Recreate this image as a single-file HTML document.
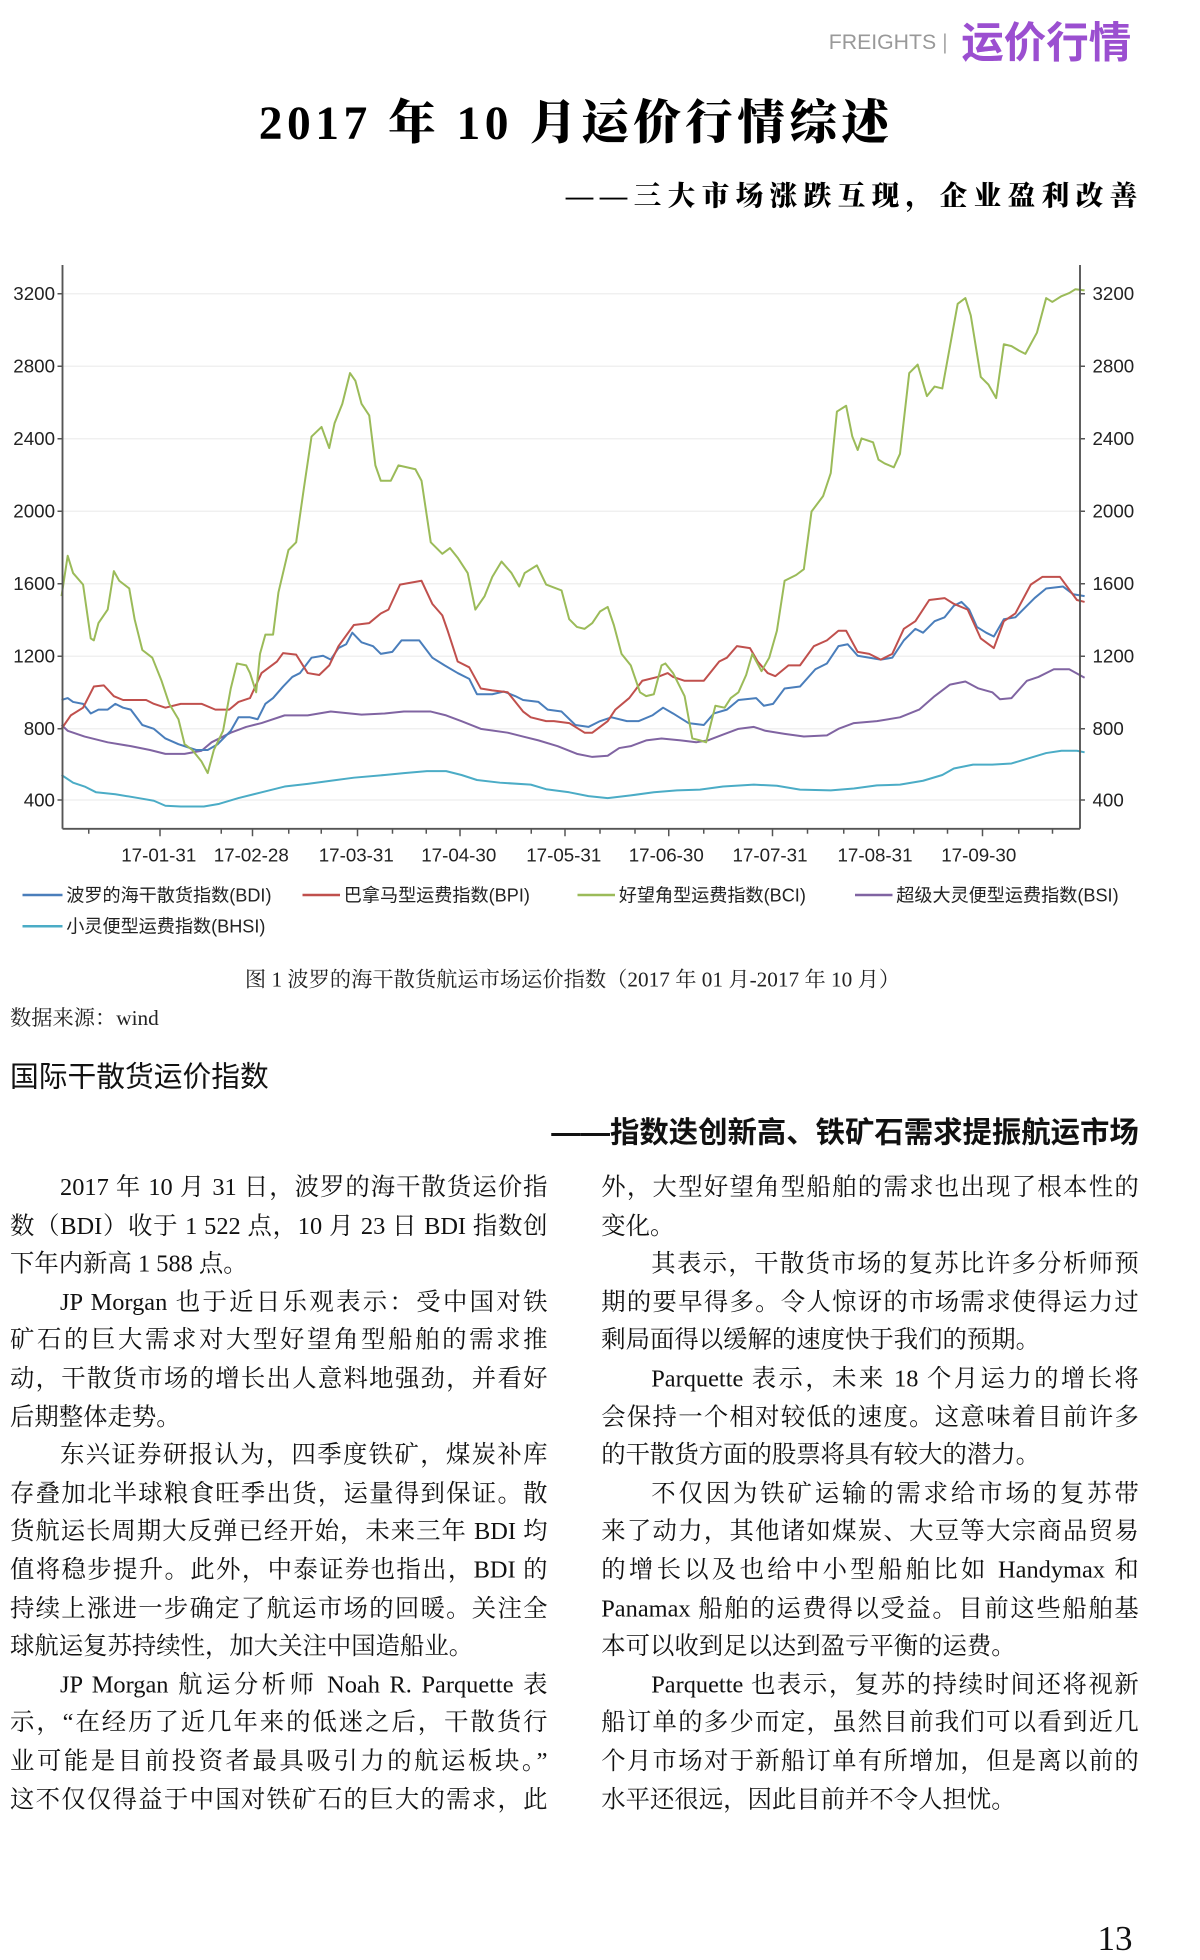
<!DOCTYPE html>
<html><head><meta charset="utf-8">
<style>
html,body{margin:0;padding:0;background:#fff;width:1200px;height:1959px;overflow:hidden;}
#p{position:absolute;left:0;top:0;width:960px;height:1568px;transform:scale(1.25);transform-origin:0 0;}
.a{position:absolute;white-space:nowrap;}
.serif{font-family:"Liberation Serif","Noto Serif CJK SC",serif;}
.sans{font-family:"Liberation Sans","Noto Sans CJK SC",sans-serif;}
.col{position:absolute;top:936px;width:430px;font-family:"Liberation Serif","Noto Serif CJK SC",serif;font-size:19.5px;line-height:30.6px;color:#111;}
.col div{text-align:justify;text-align-last:justify;white-space:nowrap;height:30.6px;}
.col div.l{text-align-last:left;}
.col div.i{padding-left:40px;}
</style></head><body><div id="p">
<div class="a sans" style="left:663px;top:24px;font-size:17px;color:#999;">FREIGHTS <span style="color:#aaa">|</span></div>
<div class="a sans" style="left:769px;top:7px;font-size:34px;color:#9b4fd0;font-weight:bold;">运价行情</div>
<div class="a serif" style="left:207px;top:67px;font-size:38px;font-weight:900;color:#000;letter-spacing:3.6px;">2017 年 10 月运价行情综述</div>
<div class="a serif" style="right:45px;top:140px;font-size:22px;font-weight:900;color:#000;letter-spacing:5.2px;">——三大市场涨跌互现，企业盈利改善</div>

<svg class="a" style="left:0;top:0" width="960" height="760" viewBox="0 0 960 760">
<g stroke="#eee" stroke-width="1">
<line x1="50" x2="864" y1="235" y2="235"/><line x1="50" x2="864" y1="293" y2="293"/><line x1="50" x2="864" y1="351" y2="351"/><line x1="50" x2="864" y1="409" y2="409"/><line x1="50" x2="864" y1="467" y2="467"/><line x1="50" x2="864" y1="525" y2="525"/><line x1="50" x2="864" y1="583" y2="583"/><line x1="50" x2="864" y1="640" y2="640"/>
</g>
<g transform="translate(0,200) scale(0.61538,0.30769)" fill="none" stroke-width="1.6" stroke-linejoin="round">
<polyline vector-effect="non-scaling-stroke" stroke="#4bacc6" points="80,1365 95,1385 110,1395 125,1410 150,1415 180,1425 200,1432 215,1445 235,1447 265,1447 285,1440 310,1425 340,1410 370,1395 400,1388 430,1380 460,1372 500,1365 525,1360 555,1355 580,1355 600,1365 620,1378 650,1385 690,1390 710,1402 740,1410 765,1420 790,1425 820,1418 850,1410 880,1405 910,1403 940,1395 980,1390 1010,1393 1040,1403 1080,1405 1110,1400 1140,1392 1170,1390 1200,1380 1225,1365 1240,1348 1265,1338 1290,1338 1315,1335 1340,1320 1360,1308 1380,1302 1400,1302 1410,1306"/>
<polyline vector-effect="non-scaling-stroke" stroke="#8064a2" points="80,1235 88,1250 110,1265 140,1280 170,1290 195,1300 215,1310 240,1310 262,1302 275,1280 300,1255 320,1240 340,1230 370,1210 400,1210 430,1200 470,1208 500,1205 525,1200 560,1200 580,1210 600,1225 625,1245 660,1255 680,1265 700,1275 725,1290 750,1310 770,1318 790,1315 805,1295 820,1290 840,1275 860,1270 885,1275 905,1280 920,1275 940,1260 960,1245 980,1240 995,1250 1020,1258 1045,1265 1075,1262 1090,1245 1110,1230 1140,1225 1170,1215 1195,1195 1215,1160 1235,1130 1255,1122 1272,1140 1290,1150 1300,1168 1315,1165 1335,1120 1350,1110 1370,1090 1390,1090 1410,1112"/>
<polyline vector-effect="non-scaling-stroke" stroke="#4a7ebb" points="80,1170 88,1165 95,1175 108,1180 118,1205 128,1195 140,1195 150,1180 160,1190 170,1195 185,1235 200,1245 215,1270 232,1285 255,1300 270,1300 283,1285 300,1250 310,1215 325,1215 335,1220 345,1180 355,1165 368,1135 380,1110 390,1100 405,1060 420,1055 430,1065 440,1035 450,1025 458,995 470,1020 485,1030 495,1050 510,1045 522,1015 545,1015 562,1060 578,1080 595,1100 610,1115 620,1155 640,1155 655,1148 670,1160 680,1170 700,1175 712,1195 730,1200 748,1235 765,1240 780,1225 795,1215 815,1225 830,1225 848,1210 862,1190 875,1205 895,1230 915,1235 928,1205 945,1195 960,1170 983,1165 993,1185 1005,1180 1020,1140 1040,1135 1060,1090 1075,1075 1090,1030 1102,1025 1115,1055 1145,1065 1160,1060 1175,1015 1190,985 1200,995 1215,965 1228,955 1240,925 1250,915 1260,935 1270,980 1282,995 1292,1005 1305,960 1320,955 1345,905 1360,880 1382,875 1395,895 1410,900"/>
<polyline vector-effect="non-scaling-stroke" stroke="#c0504d" points="80,1245 92,1210 108,1190 122,1135 135,1132 148,1160 160,1170 175,1170 190,1170 200,1180 215,1190 235,1180 262,1180 280,1195 298,1195 310,1175 325,1165 340,1100 360,1070 368,1048 385,1052 400,1100 415,1105 428,1080 440,1030 460,975 480,970 495,945 505,935 520,870 548,860 562,920 575,950 582,990 595,1070 610,1085 625,1140 640,1145 660,1150 680,1200 690,1215 710,1225 720,1225 740,1230 760,1255 770,1255 790,1225 800,1195 818,1165 835,1120 855,1110 868,1100 875,1110 890,1120 915,1120 935,1070 945,1060 958,1030 975,1035 985,1070 998,1100 1008,1108 1025,1080 1040,1080 1058,1030 1075,1015 1090,990 1100,990 1115,1045 1130,1050 1145,1065 1160,1050 1175,985 1190,965 1208,910 1228,905 1240,920 1258,935 1275,1010 1292,1035 1305,965 1320,945 1340,870 1355,850 1378,850 1400,910 1410,915"/>
<polyline vector-effect="non-scaling-stroke" stroke="#9bbb59" points="80,900 88,795 95,840 108,870 118,1010 122,1015 128,970 140,935 148,835 155,860 168,880 175,960 185,1040 198,1060 210,1120 220,1180 232,1220 240,1285 250,1300 262,1330 270,1360 278,1300 290,1250 300,1140 308,1075 320,1080 325,1100 333,1150 338,1050 345,1000 355,1000 362,890 375,780 385,760 395,620 405,485 418,460 428,515 435,450 445,400 455,320 462,340 470,400 480,430 488,560 495,600 508,600 518,560 540,570 548,600 560,760 575,790 585,775 595,800 608,840 618,935 630,900 640,850 652,810 665,840 675,875 682,840 698,820 710,870 730,885 740,960 750,980 760,985 770,970 780,940 790,928 798,975 808,1050 820,1080 832,1150 840,1160 850,1155 860,1080 865,1075 875,1100 890,1160 900,1270 910,1275 918,1280 930,1185 942,1190 950,1165 960,1150 970,1105 978,1050 990,1095 1000,1060 1010,990 1020,860 1035,845 1045,830 1055,680 1070,640 1080,580 1088,420 1100,405 1108,485 1115,520 1120,490 1135,500 1142,545 1150,555 1162,565 1170,530 1182,320 1193,298 1205,380 1215,355 1225,360 1235,250 1245,140 1255,125 1262,170 1275,330 1285,350 1295,385 1305,245 1315,250 1325,262 1333,270 1348,215 1360,125 1368,135 1380,120 1390,112 1398,102 1410,105"/>
</g>
<g stroke="#555" stroke-width="1.5" fill="none">
<line x1="50" y1="212" x2="50" y2="663"/><line x1="864" y1="212" x2="864" y2="663"/><line x1="50" y1="663" x2="864" y2="663"/>
</g>
<g stroke="#555" stroke-width="1.2">
<line x1="46" x2="50" y1="235" y2="235"/><line x1="46" x2="50" y1="293" y2="293"/><line x1="46" x2="50" y1="351" y2="351"/><line x1="46" x2="50" y1="409" y2="409"/><line x1="46" x2="50" y1="467" y2="467"/><line x1="46" x2="50" y1="525" y2="525"/><line x1="46" x2="50" y1="583" y2="583"/><line x1="46" x2="50" y1="640" y2="640"/>
<line x1="864" x2="868" y1="235" y2="235"/><line x1="864" x2="868" y1="293" y2="293"/><line x1="864" x2="868" y1="351" y2="351"/><line x1="864" x2="868" y1="409" y2="409"/><line x1="864" x2="868" y1="467" y2="467"/><line x1="864" x2="868" y1="525" y2="525"/><line x1="864" x2="868" y1="583" y2="583"/><line x1="864" x2="868" y1="640" y2="640"/>
<line x1="71" x2="71" y1="663" y2="667"/><line x1="128" x2="128" y1="663" y2="669"/><line x1="177" x2="177" y1="663" y2="667"/><line x1="202" x2="202" y1="663" y2="669"/><line x1="231" x2="231" y1="663" y2="667"/><line x1="257" x2="257" y1="663" y2="667"/><line x1="286" x2="286" y1="663" y2="669"/><line x1="314" x2="314" y1="663" y2="667"/><line x1="341" x2="341" y1="663" y2="667"/><line x1="368" x2="368" y1="663" y2="669"/><line x1="397" x2="397" y1="663" y2="667"/><line x1="425" x2="425" y1="663" y2="667"/><line x1="452" x2="452" y1="663" y2="669"/><line x1="480" x2="480" y1="663" y2="667"/><line x1="508" x2="508" y1="663" y2="667"/><line x1="535" x2="535" y1="663" y2="669"/><line x1="563" x2="563" y1="663" y2="667"/><line x1="591" x2="591" y1="663" y2="667"/><line x1="618" x2="618" y1="663" y2="669"/><line x1="646" x2="646" y1="663" y2="667"/><line x1="675" x2="675" y1="663" y2="667"/><line x1="703" x2="703" y1="663" y2="669"/><line x1="731" x2="731" y1="663" y2="667"/><line x1="758" x2="758" y1="663" y2="667"/><line x1="786" x2="786" y1="663" y2="669"/><line x1="815" x2="815" y1="663" y2="667"/><line x1="842" x2="842" y1="663" y2="667"/>
</g>
<g font-family="Liberation Sans Narrow, Liberation Sans, sans-serif" font-size="15" fill="#222">
<g text-anchor="end"><text x="44" y="240">3200</text><text x="44" y="298">2800</text><text x="44" y="356">2400</text><text x="44" y="414">2000</text><text x="44" y="472">1600</text><text x="44" y="530">1200</text><text x="44" y="588">800</text><text x="44" y="645">400</text></g>
<g><text x="874" y="240">3200</text><text x="874" y="298">2800</text><text x="874" y="356">2400</text><text x="874" y="414">2000</text><text x="874" y="472">1600</text><text x="874" y="530">1200</text><text x="874" y="588">800</text><text x="874" y="645">400</text></g>
<g text-anchor="middle"><text x="127" y="689">17-01-31</text><text x="201" y="689">17-02-28</text><text x="285" y="689">17-03-31</text><text x="367" y="689">17-04-30</text><text x="451" y="689">17-05-31</text><text x="533" y="689">17-06-30</text><text x="616" y="689">17-07-31</text><text x="700" y="689">17-08-31</text><text x="783" y="689">17-09-30</text></g>
</g>
<g stroke-width="2">
<line x1="18" x2="50" y1="716" y2="716" stroke="#4a7ebb"/><line x1="242" x2="272" y1="716" y2="716" stroke="#c0504d"/><line x1="462" x2="492" y1="716" y2="716" stroke="#9bbb59"/><line x1="684" x2="714" y1="716" y2="716" stroke="#8064a2"/><line x1="18" x2="50" y1="741" y2="741" stroke="#4bacc6"/>
</g>
<g font-family="Liberation Sans, Noto Sans CJK SC, sans-serif" font-size="14.5" fill="#222">
<text x="53" y="721">波罗的海干散货指数(BDI)</text><text x="275" y="721">巴拿马型运费指数(BPI)</text><text x="495" y="721">好望角型运费指数(BCI)</text><text x="717" y="721">超级大灵便型运费指数(BSI)</text><text x="53" y="746">小灵便型运费指数(BHSI)</text>
</g>
</svg>

<div class="a serif" style="left:0;width:916px;text-align:center;top:769px;font-size:17px;color:#222;">图 1 波罗的海干散货航运市场运价指数（2017 年 01 月-2017 年 10 月）</div>
<div class="a serif" style="left:8px;top:800px;font-size:17px;color:#222;">数据来源：wind</div>
<div class="a sans" style="left:8px;top:842px;font-size:23px;color:#111;">国际干散货运价指数</div>
<div class="a sans" style="right:49px;top:887px;font-size:23.5px;color:#111;font-weight:bold;">——指数迭创新高、铁矿石需求提振航运市场</div>

<div class="col" style="left:8px;">
<div class="i">2017 年 10 月 31 日，波罗的海干散货运价指</div>
<div>数（BDI）收于 1 522 点，10 月 23 日 BDI 指数创</div>
<div class="l">下年内新高 1 588 点。</div>
<div class="i">JP Morgan 也于近日乐观表示：受中国对铁</div>
<div>矿石的巨大需求对大型好望角型船舶的需求推</div>
<div>动，干散货市场的增长出人意料地强劲，并看好</div>
<div class="l">后期整体走势。</div>
<div class="i">东兴证券研报认为，四季度铁矿，煤炭补库</div>
<div>存叠加北半球粮食旺季出货，运量得到保证。散</div>
<div>货航运长周期大反弹已经开始，未来三年 BDI 均</div>
<div>值将稳步提升。此外，中泰证券也指出，BDI 的</div>
<div>持续上涨进一步确定了航运市场的回暖。关注全</div>
<div class="l">球航运复苏持续性，加大关注中国造船业。</div>
<div class="i">JP Morgan 航运分析师 Noah R. Parquette 表</div>
<div>示，“在经历了近几年来的低迷之后，干散货行</div>
<div>业可能是目前投资者最具吸引力的航运板块。”</div>
<div>这不仅仅得益于中国对铁矿石的巨大的需求，此</div>
</div>
<div class="col" style="left:481px;">
<div>外，大型好望角型船舶的需求也出现了根本性的</div>
<div class="l">变化。</div>
<div class="i">其表示，干散货市场的复苏比许多分析师预</div>
<div>期的要早得多。令人惊讶的市场需求使得运力过</div>
<div class="l">剩局面得以缓解的速度快于我们的预期。</div>
<div class="i">Parquette 表示，未来 18 个月运力的增长将</div>
<div>会保持一个相对较低的速度。这意味着目前许多</div>
<div class="l">的干散货方面的股票将具有较大的潜力。</div>
<div class="i">不仅因为铁矿运输的需求给市场的复苏带</div>
<div>来了动力，其他诸如煤炭、大豆等大宗商品贸易</div>
<div>的增长以及也给中小型船舶比如 Handymax 和</div>
<div>Panamax 船舶的运费得以受益。目前这些船舶基</div>
<div class="l">本可以收到足以达到盈亏平衡的运费。</div>
<div class="i">Parquette 也表示，复苏的持续时间还将视新</div>
<div>船订单的多少而定，虽然目前我们可以看到近几</div>
<div>个月市场对于新船订单有所增加，但是离以前的</div>
<div class="l">水平还很远，因此目前并不令人担忧。</div>
</div>
<div class="a serif" style="left:878px;top:1536px;font-size:28px;color:#111;">13</div>
</div></body></html>
